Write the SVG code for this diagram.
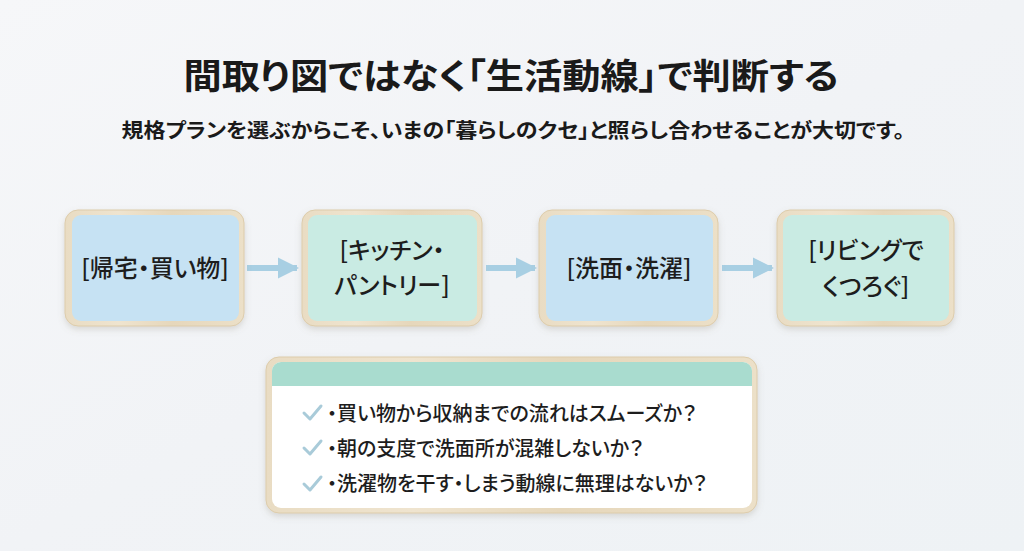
<svg xmlns="http://www.w3.org/2000/svg" width="1024" height="551" viewBox="0 0 1024 551">
<defs>
<linearGradient id="bg" x1="0" y1="0" x2="1" y2="1">
<stop offset="0" stop-color="#f6f7f9"/>
<stop offset="0.5" stop-color="#f1f3f6"/>
<stop offset="1" stop-color="#eef2f5"/>
</linearGradient>
<linearGradient id="wood" x1="0" y1="0" x2="1" y2="0">
<stop offset="0" stop-color="#e9dcc3"/>
<stop offset="0.3" stop-color="#efe4cf"/>
<stop offset="0.6" stop-color="#e6d7bb"/>
<stop offset="1" stop-color="#ece0c8"/>
</linearGradient>
<filter id="sh" x="-10%" y="-10%" width="120%" height="130%">
<feDropShadow dx="0" dy="3" stdDeviation="3" flood-color="#8a8070" flood-opacity="0.25"/>
</filter>
<marker id="ah" viewBox="0 0 10 10" refX="9" refY="5" markerWidth="3.6" markerHeight="3.6" orient="auto" markerUnits="strokeWidth">
<path d="M0,0 L10,5 L0,10 z" fill="#a8cfe3"/>
</marker>
<clipPath id="pclip"><rect x="272" y="362" width="480" height="146" rx="9"/></clipPath>
</defs>
<style>
text{font-feature-settings:"palt" 1}
.frame{fill:url(#wood);stroke:#ddccab;stroke-width:1}
.blue{fill:#c6e2f3}
.teal{fill:#c9ebe3}
.lbl{font-family:"Noto Sans CJK JP","Noto Sans",sans-serif;font-size:24px;font-weight:500;fill:#1d1d1d;text-anchor:middle}
.conn{stroke:#a8cfe3;stroke-width:6;fill:none}
.chk{stroke:#a9cbd9;stroke-width:3;fill:none;stroke-linecap:round;stroke-linejoin:round}
.item{font-family:"Noto Sans CJK JP","Noto Sans",sans-serif;font-size:20px;font-weight:500;fill:#1d1d1d}
</style>
<rect width="1024" height="551" fill="url(#bg)"/>
<text x="511" y="89" font-family="'Noto Sans CJK JP','Noto Sans',sans-serif" font-size="35" font-weight="700" fill="#1a1a1a" text-anchor="middle" textLength="655" lengthAdjust="spacingAndGlyphs">間取り図ではなく「生活動線」で判断する</text>
<text x="513" y="138" font-family="'Noto Sans CJK JP','Noto Sans',sans-serif" font-size="20" font-weight="700" fill="#1a1a1a" text-anchor="middle" textLength="783" lengthAdjust="spacingAndGlyphs">規格プランを選ぶからこそ、いまの「暮らしのクセ」と照らし合わせることが大切です。</text>

<g id="connectors">
<line class="conn" x1="247" y1="268" x2="297" y2="268" marker-end="url(#ah)"/>
<line class="conn" x1="486" y1="268" x2="535" y2="268" marker-end="url(#ah)"/>
<line class="conn" x1="722" y1="268" x2="772" y2="268" marker-end="url(#ah)"/>
</g>

<g id="node1">
<rect class="frame" x="65" y="210" width="179" height="116" rx="13" filter="url(#sh)"/>
<rect class="blue" x="72" y="215" width="167" height="106" rx="9"/>
<text class="lbl" x="155" y="277">[帰宅・買い物]</text>
</g>
<g id="node2">
<rect class="frame" x="302" y="210" width="180" height="116" rx="13" filter="url(#sh)"/>
<rect class="teal" x="308" y="215" width="169" height="106" rx="9"/>
<text class="lbl" x="392" y="259">[キッチン・</text>
<text class="lbl" x="392" y="294">パントリー]</text>
</g>
<g id="node3">
<rect class="frame" x="539" y="210" width="179" height="116" rx="13" filter="url(#sh)"/>
<rect class="blue" x="546" y="215" width="167" height="106" rx="9"/>
<text class="lbl" x="629" y="277">[洗面・洗濯]</text>
</g>
<g id="node4">
<rect class="frame" x="777" y="210" width="177" height="116" rx="13" filter="url(#sh)"/>
<rect class="teal" x="783" y="215" width="166" height="106" rx="9"/>
<text class="lbl" x="866" y="259">[リビングで</text>
<text class="lbl" x="866" y="295">くつろぐ]</text>
</g>

<g id="checklist">
<rect class="frame" x="266" y="357" width="491" height="156" rx="13" filter="url(#sh)"/>
<g clip-path="url(#pclip)">
<rect x="272" y="362" width="480" height="146" fill="#ffffff"/>
<rect x="272" y="362" width="480" height="24" fill="#a9dccf"/>
</g>
<path class="chk" d="M304,413 L310,419 L321,406"/>
<path class="chk" d="M304,448 L310,454 L321,441"/>
<path class="chk" d="M304,484 L310,490 L321,477"/>
<text class="item" x="327" y="421">・買い物から収納までの流れはスムーズか？</text>
<text class="item" x="327" y="456">・朝の支度で洗面所が混雑しないか？</text>
<text class="item" x="327" y="491">・洗濯物を干す・しまう動線に無理はないか？</text>
</g>
</svg>
